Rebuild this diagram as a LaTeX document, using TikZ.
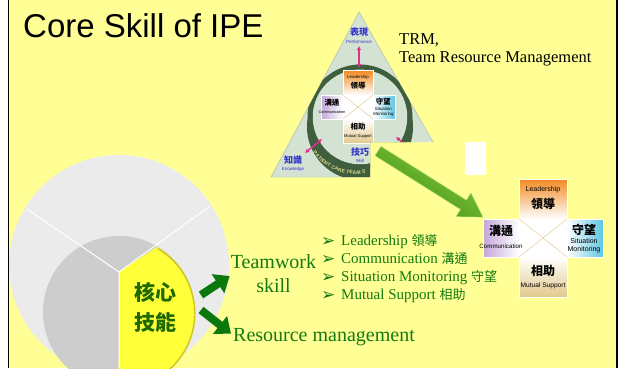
\documentclass[tikz,border=0pt]{standalone}
\usepackage{fontspec}
\setmainfont{Liberation Serif}
\setsansfont{Liberation Sans}
\newfontfamily\cjk{Noto Sans CJK TC}
\newfontfamily\symb{DejaVu Sans}
\usetikzlibrary{arrows.meta,decorations.text}

\definecolor{slide}{HTML}{FFFF96}
\definecolor{textgreen}{HTML}{137A13}
\definecolor{arrowgreen}{HTML}{0B780B}
\definecolor{pieouter}{HTML}{EBEBEB}
\definecolor{pieinner}{HTML}{CDCDCD}
\definecolor{core}{HTML}{FFFF3A}
\definecolor{coreedge}{HTML}{D2C41E}
\definecolor{coretext}{HTML}{1E6A00}
\definecolor{tri}{HTML}{D3E2D3}
\definecolor{ring}{HTML}{3E5E3E}
\definecolor{bandtext}{HTML}{E2DC8C}
\definecolor{logoblue}{HTML}{3535C8}
\definecolor{pinkarrow}{HTML}{E0308C}
\definecolor{leadorange}{HTML}{F28A22}
\definecolor{commpurple}{HTML}{C4A6DA}
\definecolor{moncyan}{HTML}{5CC6E2}
\definecolor{supptan}{HTML}{E2C98C}
\definecolor{bigarrowlight}{HTML}{8CD040}
\definecolor{bigarrowdark}{HTML}{3C8C12}

\tikzset{
  arm/.style={draw=white, line width=.5pt},
  arm en/.style={font=\sffamily\fontsize{7}{8}\selectfont, inner sep=0pt, align=center},
  arm zh/.style={font=\cjk\bfseries\fontsize{12}{12}\selectfont, inner sep=0pt},
  logo zh/.style={text=logoblue, font=\cjk\bfseries\fontsize{9}{9}\selectfont, inner sep=0pt},
  logo en/.style={text=logoblue, font=\sffamily\fontsize{4.5}{4.5}\selectfont, inner sep=0pt},
  green label/.style={text=textgreen, font=\fontsize{20}{24}\selectfont, inner sep=0pt},
  bullet mark/.style={text=textgreen, font=\symb\fontsize{17}{17}\selectfont, anchor=base west, inner sep=0pt},
  bullet item/.style={text=textgreen, font=\fontsize{15}{15}\selectfont, anchor=base west, inner sep=0pt},
  block arrow/.style={arrowgreen, line width=8pt, -{Triangle[length=14pt,width=22pt]}},
  pink arrow/.style={pinkarrow, line width=1.4pt, {Latex[length=4pt,width=4.5pt]}-{Latex[length=4pt,width=4.5pt]}},
}

% the four-arm cross, #1 prefixes the node names
\newcommand\teamcross[1]{%
  \shadedraw[arm, top color=leadorange, middle color=leadorange!45, bottom color=white] (-24,-59) rectangle (24,-19);
  \shadedraw[arm, left color=commpurple, middle color=commpurple!45, right color=white] (-60,-19) rectangle (-24,19);
  \shadedraw[arm, left color=white, middle color=moncyan!45, right color=moncyan] (24,-19) rectangle (60,19);
  \shadedraw[arm, top color=white, middle color=supptan!50, bottom color=supptan] (-24,19) rectangle (24,59);
  \fill[white] (-23.7,-19.3) rectangle (23.7,19.3);
  \draw[supptan!80!white, line width=.6pt] (-24,-19) -- (24,19) (-24,19) -- (24,-19);
  \node[arm en] (#1-lead) at (0,-48.5) {Leadership};
  \node[arm zh] (#1-leadzh) at (0,-34) {領導};
  \node[arm zh] (#1-commzh) at (-42,-7) {溝通};
  \node[arm en, font=\sffamily\fontsize{6.2}{7}\selectfont] (#1-comm) at (-42,8.5) {Communication};
  \node[arm zh] (#1-monzh) at (41,-8.5) {守望};
  \node[arm en] (#1-mon) at (41,7.5) {Situation\\Monitoring};
  \node[arm zh] (#1-suppzh) at (0,32.5) {相助};
  \node[arm en, font=\sffamily\fontsize{6.6}{7}\selectfont] (#1-supp) at (0,47.5) {Mutual Support};
}

\begin{document}
\begin{tikzpicture}[x=1pt, y=-1pt]
\useasboundingbox (0,0) rectangle (618,368);
\fill[white] (0,0) rectangle (8,368);
\fill[slide] (8,0) rectangle (618,368);

% pie on the left
\fill[pieouter] (119,265) circle[radius=110];
\fill[pieinner] (119,312) circle[radius=76];
\fill[core] (119,272) -- (157,247) arc[start angle=-59.7, end angle=90, radius=76] -- cycle;
\draw[coreedge, line width=1.4pt] (157.6,248.5) arc[start angle=-59.7, end angle=90, radius=75];
\draw[white, line width=1pt] (119,272) -- (27,209) (119,272) -- (210,206) (119,272) -- (119,368);
\node[font=\cjk\bfseries\fontsize{21}{30}\selectfont, text=coretext, align=center, inner sep=0pt] (core) at (155,307) {核心\\技能};

\draw[line width=1.5pt] (8.5,0) -- (8.5,368);
\draw[line width=1.5pt] (617.2,0) -- (617.2,368);

\node[anchor=base west, inner sep=0pt, font=\sffamily\fontsize{33}{33}\selectfont] (title) at (23,37) {Core Skill of IPE};

% TRM logo
\begin{scope}
  \clip (255,0) rectangle (370,190) (370,0) rectangle (470,142);
  \filldraw[fill=tri, draw=tri!80!black, line width=.4pt] (359,12) -- (453,177) -- (271,177) -- cycle;
  \clip (359,12) -- (453,177) -- (271,177) -- cycle;
  \coordinate (ringc) at (360,117);
  \fill[ring] (360,127) circle[radius=53];
  \fill[tri] (ringc) circle[radius=47.5];
  \draw[ring, line width=5pt] (ringc) circle[radius=50];
  \path[decorate, decoration={text along path, raise=-2.2pt, text align={left indent=2pt},
      text={|\sffamily\bfseries\fontsize{5}{5}\selectfont\color{bandtext}|PATIENT CARE TEAM S}}]
    (313.4,149.8) arc[start angle=145, end angle=30, radius=52];
  \begin{scope}[shift={(358,107)}, scale=.62, transform shape]
    \teamcross{small}
  \end{scope}
  \draw[pink arrow] (359,46) -- (359,68);
  \draw[pink arrow] (305,153) -- (322,139);
  \draw[pink arrow] (396,137) -- (414,152);
  \node[logo zh] (perf) at (359,32) {表現};
  \node[logo en] (perfen) at (359,41.5) {Performance};
  \node[logo zh] (know) at (293,160.5) {知識};
  \node[logo en] (knowen) at (293,169.5) {Knowledge};
  \node[logo zh] (skill) at (360,152) {技巧};
  \node[logo en] (skillen) at (360,161) {Skill};
\end{scope}

\node[anchor=base west, inner sep=0pt, font=\fontsize{16.5}{16.5}\selectfont] (trm) at (399,44) {TRM,};
\node[anchor=base west, inner sep=0pt, font=\fontsize{16.5}{16.5}\selectfont] (trmlong) at (399,62) {Team Resource Management};

\fill[white] (465,142) rectangle (486,175);

% big arrow down to the cross
\coordinate (trm-tail) at (378,151);
\begin{scope}[shift={(trm-tail)}, rotate=-32.2]
  \shadedraw[draw=bigarrowlight!70!white, line width=.4pt, top color=bigarrowlight, bottom color=bigarrowdark, shading angle=-32.2]
    (0,-5.5) -- (101,-5.5) -- (101,-14) -- (124,0) -- (101,14) -- (101,5.5) -- (0,5.5) -- cycle;
\end{scope}

\begin{scope}[shift={(543,238)}]
  \teamcross{big}
\end{scope}

% bullet list
\foreach \en/\zh [count=\i] in {Leadership/領導, Communication/溝通, Situation Monitoring/守望, Mutual Support/相助} {
  \node[bullet mark] (mark\i) at (321,228+18*\i) {➢};
  \node[bullet item] (item\i) at (341,227+18*\i) {\en\ {\cjk\fontsize{13}{13}\selectfont\zh}};
}

\node[green label, align=center] (team) at (273.5,274) {Teamwork\\skill};
\node[green label, anchor=base west] (res) at (233,341) {Resource management};

\coordinate (core-up) at (201,295);
\coordinate (core-down) at (201,310);
\draw[block arrow] (core-up) -- ([xshift=-1pt,yshift=-2pt]team.west);
\draw[block arrow] (core-down) -- ([xshift=-2pt,yshift=3pt]res.west);
\end{tikzpicture}
\end{document}
